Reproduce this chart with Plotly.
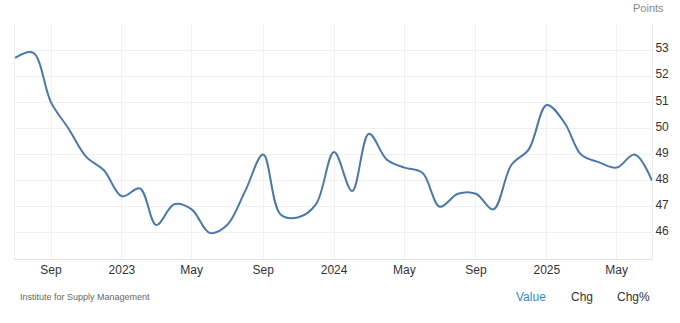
import plotly.graph_objects as go
import pandas as pd

# ISM Manufacturing PMI, monthly (Jul 2022 - Jul 2025)
months = pd.date_range("2022-07-01", "2025-07-01", freq="MS")
values = [52.7, 52.9, 51.0, 50.0, 48.9, 48.4,
          47.4, 47.7, 46.3, 47.1, 46.9, 46.0, 46.3, 47.6, 49.0, 46.7, 46.6, 47.1,
          49.1, 47.6, 49.8, 48.8, 48.5, 48.3, 47.0, 47.5, 47.5, 46.9, 48.6, 49.2,
          50.9, 50.2, 49.0, 48.7, 48.5, 49.0, 48.0]

x_tick_vals = ["2022-09-01", "2023-01-01", "2023-05-01", "2023-09-01", "2024-01-01",
               "2024-05-01", "2024-09-01", "2025-01-01", "2025-05-01"]
x_tick_text = ["Sep", "2023", "May", "Sep", "2024", "May", "Sep", "2025", "May"]
y_tick_vals = [45, 46, 47, 48, 49, 50, 51, 52, 53, 54]
y_tick_text = ["", "46", "47", "48", "49", "50", "51", "52", "53", ""]

FONT = "Liberation Sans, Arial, sans-serif"

fig = go.Figure()
fig.add_trace(go.Scatter(
    x=months, y=values, mode="lines",
    line=dict(color="#4a78ab", width=2, shape="spline", smoothing=1.0),
    hoverinfo="x+y", showlegend=False,
))

fig.update_layout(
    width=680, height=323,
    margin=dict(l=15, r=28, t=24, b=64),
    paper_bgcolor="white", plot_bgcolor="white",
    font=dict(family=FONT, size=12, color="#333333"),
    xaxis=dict(
        range=["2022-07-01", "2025-07-01"],
        tickmode="array", tickvals=x_tick_vals, ticktext=x_tick_text,
        showgrid=True, gridcolor="#f0f0f0", gridwidth=1,
        showline=True, linecolor="#e0e0e0", linewidth=1, mirror=False,
        ticks="", tickfont=dict(size=12, color="#333333"),
        zeroline=False, fixedrange=True,
    ),
    yaxis=dict(
        range=[45, 54], side="right",
        tickmode="array", tickvals=y_tick_vals, ticktext=y_tick_text,
        showgrid=True, gridcolor="#f0f0f0", gridwidth=1,
        showline=True, linecolor="#ececec", linewidth=1, mirror=True,
        ticks="", tickfont=dict(size=12, color="#333333"),
        ticklabelshift=-2,
        zeroline=False, fixedrange=True,
    ),
    annotations=[
        dict(text="Points", xref="paper", yref="paper", x=1.0224, y=1.068,
             xanchor="right", yanchor="middle", showarrow=False,
             font=dict(size=11, color="#888888", family=FONT)),
        dict(text="Institute for Supply Management", xref="paper", yref="paper",
             x=0.005, y=-0.160, xanchor="left", yanchor="middle", showarrow=False,
             font=dict(size=9, color="#666666", family=FONT)),
        dict(text="Value", xref="paper", yref="paper", x=0.8105, y=-0.160,
             xanchor="center", yanchor="middle", showarrow=False,
             font=dict(size=12, color="#3387CC", family=FONT)),
        dict(text="Chg", xref="paper", yref="paper", x=0.8906, y=-0.160,
             xanchor="center", yanchor="middle", showarrow=False,
             font=dict(size=12, color="#333333", family=FONT)),
        dict(text="Chg%", xref="paper", yref="paper", x=0.9714, y=-0.160,
             xanchor="center", yanchor="middle", showarrow=False,
             font=dict(size=12, color="#333333", family=FONT)),
    ],
)

fig.write_html("out.html", config={"displayModeBar": False})
